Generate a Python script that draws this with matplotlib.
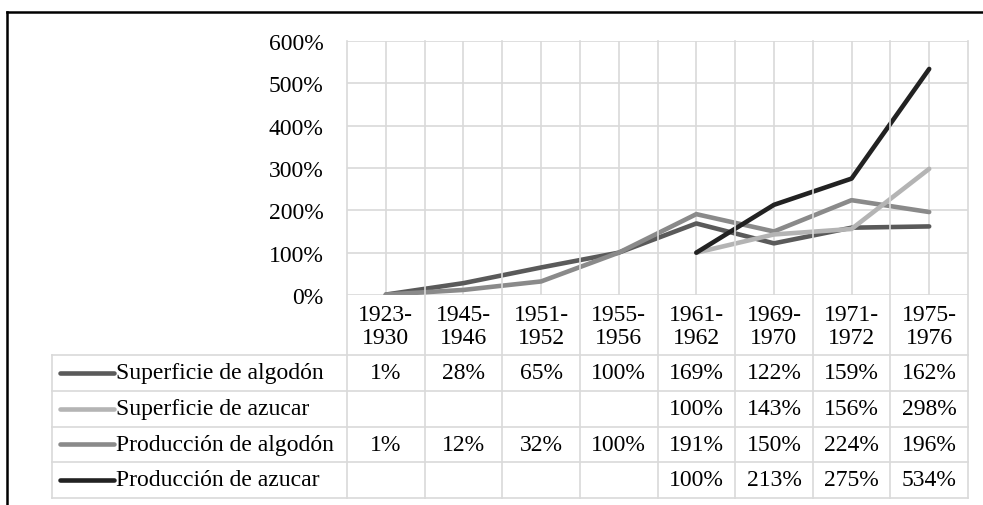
import numpy as np
import matplotlib
matplotlib.use("Agg")
import matplotlib.pyplot as plt
from matplotlib import transforms
from matplotlib.lines import Line2D

categories = ["1923-\n1930", "1945-\n1946", "1951-\n1952", "1955-\n1956",
              "1961-\n1962", "1969-\n1970", "1971-\n1972", "1975-\n1976"]
series_names = ["Superficie de algodón", "Superficie de azucar",
                "Producción de algodón", "Producción de azucar"]
sup_algodon = [1, 28, 65, 100, 169, 122, 159, 162]
sup_azucar = [None, None, None, None, 100, 143, 156, 298]
prod_algodon = [1, 12, 32, 100, 191, 150, 224, 196]
prod_azucar = [None, None, None, None, 100, 213, 275, 534]
y_ticks = [0, 100, 200, 300, 400, 500, 600]

series_values = [sup_algodon, sup_azucar, prod_algodon, prod_azucar]
colors = ["#5a5a5a", "#b4b4b4", "#8a8a8a", "#222222"]
zorders = [3, 5, 4, 6]

W, H = 983, 506
plt.rcParams['font.family'] = ['Liberation Serif', 'DejaVu Serif']
FS = 17
fig = plt.figure(figsize=(W / 100, H / 100), dpi=100)

# plot area in pixels
PL, PR, PT, PB = 347, 968, 42, 296
ax = fig.add_axes([PL / W, 1 - PB / H, (PR - PL) / W, (PB - PT) / H])
n = len(categories)
x = np.arange(n)
ax.set_xlim(-0.5, n - 0.5)
ax.set_ylim(0, 600)
for s in ax.spines.values():
    s.set_visible(False)
grid_c = "#d9d9d9"
for yv in y_ticks:
    ax.axhline(yv, color=grid_c, lw=1.2, zorder=1)
for xv in x:
    ax.axvline(xv, color=grid_c, lw=1.2, zorder=1)
ax.set_xticks([])
ax.set_yticks(y_ticks)
ax.set_yticklabels([f"{v}%" for v in y_ticks], fontsize=FS)
ax.tick_params(axis='y', length=0, pad=17)

for vals, c, z in zip(series_values, colors, zorders):
    arr = np.array([np.nan if v is None else v for v in vals], dtype=float)
    ax.plot(x, arr, color=c, lw=3.3, solid_capstyle='round',
            solid_joinstyle='round', zorder=z)

# transforms: x in data, y in figure pixels from top
pix = transforms.Affine2D().scale(1.0 / W, -1.0 / H).translate(0, 1) + fig.transFigure
blend = transforms.blended_transform_factory(ax.transData, pix)

def fline(xs, ys, tr=pix, **kw):
    fig.add_artist(Line2D(xs, ys, transform=tr, **kw))

# category boundaries extending down through header and table
TT, TB = 356, 499
row_lines = [356, 392, 428, 463, 499]
TL = 52
for b in np.arange(n + 1) - 0.5:
    fline([b, b], [PT, TB], tr=blend, color=grid_c, lw=1.2)
for ry in row_lines:
    fline([TL, PR], [ry, ry], color=grid_c, lw=1.2)
fline([TL, TL], [TT, TB], color=grid_c, lw=1.2)

# category labels
for xi, lab in zip(x, categories):
    fig.text(0, 0, lab, transform=blend, fontsize=FS, ha='center', va='center',
             linespacing=1.15).set_position((xi, 327))

# table rows
for r, (name, vals, c) in enumerate(zip(series_names, series_values, colors)):
    cy = (row_lines[r] + row_lines[r + 1]) / 2
    fline([60, 114], [cy, cy], color=c, lw=3.3, solid_capstyle='round')
    fig.text(116 / W, 1 - cy / H, name, fontsize=FS, ha='left', va='center')
    for xi, v in zip(x, vals):
        if v is not None:
            t = fig.text(0, 0, f"{v}%", transform=blend, fontsize=FS,
                         ha='center', va='center')
            t.set_position((xi, cy))

# outer frame
fline([7, W + 5], [13, 13], color="black", lw=1.8)
fline([7, 7], [13, H + 5], color="black", lw=1.8)

fig.savefig("out.png", dpi=100)
